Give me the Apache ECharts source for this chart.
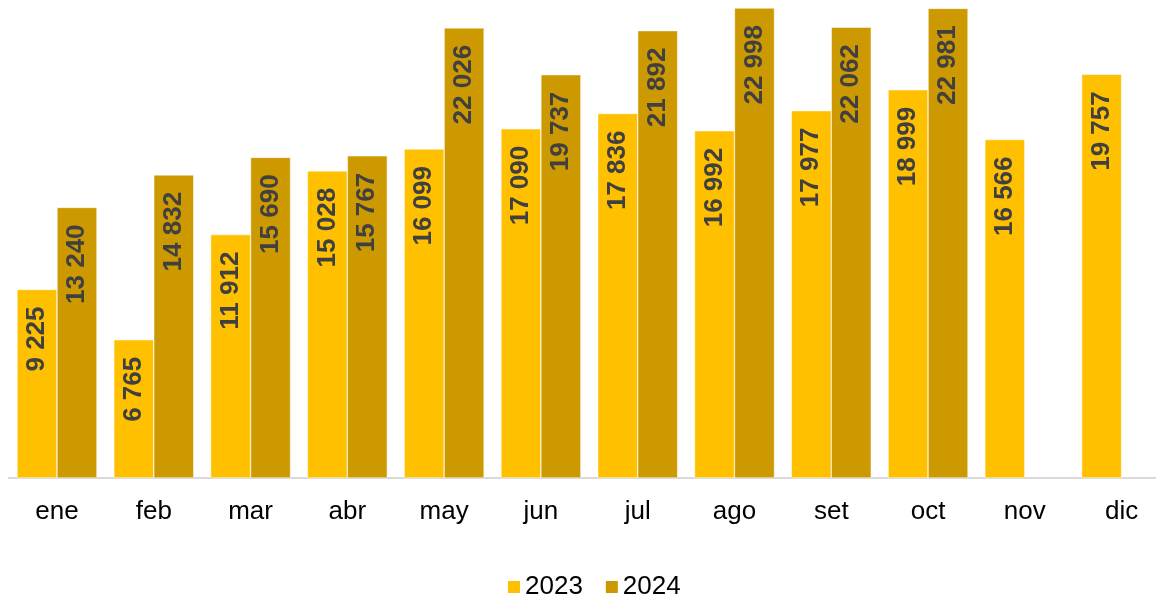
<!DOCTYPE html>
<html><head><meta charset="utf-8">
<script src="https://cdn.jsdelivr.net/npm/echarts@6/dist/echarts.min.js"></script>
<style>html,body{margin:0;padding:0;background:#fff;overflow:hidden;width:1156px;height:597px}#c{width:1172px;height:597px}</style>
</head><body><div id="c"></div>
<script>
const categories = ['ene','feb','mar','abr','may','jun','jul','ago','set','oct','nov','dic'];
const s2023 = [9225,6765,11912,15028,16099,17090,17836,16992,17977,18999,16566,19757];
const s2024 = [13240,14832,15690,15767,22026,19737,21892,22998,22062,22981,null,null];
const fmt = v => String(v).replace(/\B(?=(\d{3})+(?!\d))/g, ' ');
const label = {
  show: true, position: 'insideTop', rotate: 90, align: 'right', verticalAlign: 'middle',
  distance: 17, color: '#404040', fontSize: 26, fontWeight: 'bold', fontFamily: 'Liberation Sans',
  formatter: p => fmt(p.value)
};
const chart = echarts.init(document.getElementById('c'));
chart.setOption({
  animation: false,
  grid: { left: 8.6, top: 8, right: 2, bottom: 119, containLabel: false },
  xAxis: {
    type: 'category', data: categories,
    axisLine: { lineStyle: { color: '#d9d9d9', width: 2 } },
    axisTick: { show: false },
    axisLabel: { color: '#000', fontSize: 26, fontFamily: 'Liberation Sans', margin: 21 }
  },
  yAxis: { type: 'value', min: 0, max: 23000, show: false, splitLine: { show: false } },
  legend: {
    top: 569, left: 501, itemWidth: 14, itemHeight: 14, itemGap: 21,
    icon: 'rect',
    textStyle: { color: '#000', fontSize: 26, fontFamily: 'Liberation Sans', padding: [0,0,0,-1] }
  },
  series: [
    { name: '2023', type: 'bar', data: s2023, barGap: '0%', barCategoryGap: '17.4%',
      itemStyle: { color: '#FFC000', borderColor: '#fff', borderWidth: 0.5 }, label },
    { name: '2024', type: 'bar', data: s2024,
      itemStyle: { color: '#CC9900', borderColor: '#fff', borderWidth: 0.5 }, label }
  ]
});
</script></body></html>
